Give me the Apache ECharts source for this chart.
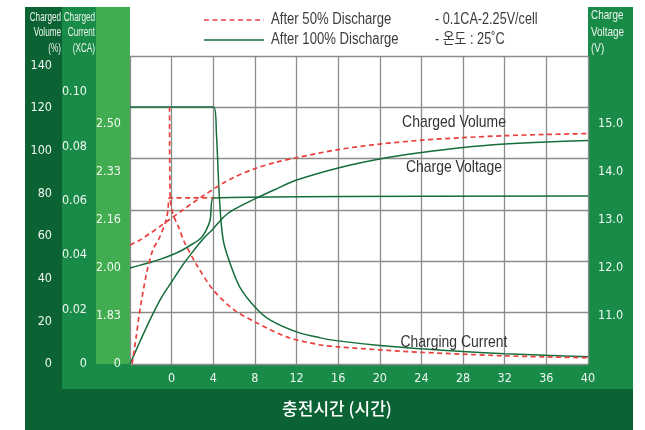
<!DOCTYPE html>
<html><head><meta charset="utf-8">
<script src="https://cdn.jsdelivr.net/npm/echarts@6/dist/echarts.min.js"></script>
<style>html,body{margin:0;padding:0;background:#fff}#c{width:645px;height:430px}</style>
</head><body><div id="c"></div>
<script>
// ---- data (hours since start of charge) ----
const xTickLabels = [0, 4, 8, 12, 16, 20, 24, 28, 32, 36, 40];
const volumeTicks = [0, 20, 40, 60, 80, 100, 120, 140];
const currentTicks = [0, 0.02, 0.04, 0.06, 0.08, 0.10];
const cellVoltLabels = ['0', '1.83', '2.00', '2.16', '2.33', '2.50'];
const packVoltTicks = [11, 12, 13, 14, 15];
const legendNames = ['After 50% Discharge', 'After 100% Discharge'];
const conditions = ['- 0.1CA-2.25V/cell', '- 온도 : 25˚C'];

// After 100% discharge (green)
const g100VolT = [-4, -3.5, -3, -2, -1, 0, 1, 2, 3, 4, 5, 6, 8, 10, 12, 16, 20, 24, 28, 32, 36, 40];
const g100VolV = [0, 5.5, 11, 21.5, 31, 38.5, 46, 52.5, 58.5, 63.5, 69, 72.5, 77.5, 82, 86.3, 92, 96.2, 99.2, 101.6, 103.2, 104.2, 104.8];
const g100CurT = [-4, 4.05, 4.3, 4.6, 4.95, 5.6, 6.55, 8, 9.45, 12, 14.3, 16, 20, 24, 28, 32, 36, 40];
const g100CurV = [0.0945, 0.0945, 0.0849, 0.0603, 0.0456, 0.0371, 0.0283, 0.0210, 0.0162, 0.0118, 0.0096, 0.0085, 0.0068, 0.0056, 0.0046, 0.0038, 0.0032, 0.0027];
const g100VoltT = [-4, -3, -2, -1, 0, 1, 2, 2.8, 3.3, 3.7, 4.0, 40];
const g100VoltV = [12.0, 12.06, 12.12, 12.19, 12.27, 12.37, 12.5, 12.62, 12.78, 13.0, 13.46, 13.5];

// After 50% discharge (red dashed)
const r50VolT = [-4, -3, -2, -1, 0, 1, 2, 3, 4, 5, 6, 8, 10, 12, 16, 20, 24, 28, 32, 36, 40];
const r50VolV = [55.8, 58.3, 61.5, 65, 68.5, 72, 75.5, 78.8, 82, 85, 87.6, 91.7, 94.6, 96.8, 100.6, 103.2, 105, 106.2, 107.1, 107.7, 108.1];
const r50CurT = [-0.2, -0.15, 0.1, 0.7, 1.2, 2.4, 4, 6, 8.2, 11.1, 14.3, 16, 20, 24, 28, 32, 36, 40];
const r50CurV = [0.0945, 0.062, 0.0555, 0.050, 0.045, 0.0365, 0.0272, 0.0199, 0.0151, 0.0099, 0.0070, 0.0063, 0.0052, 0.0043, 0.0036, 0.0030, 0.0026, 0.0023];
const r50VoltT = [-3.8, -3.4, -3.1, -2.4, -1.8, -1.2, -0.6, -0.35, -0.2, 4];
const r50VoltV = [10.0, 10.57, 11.05, 11.9, 12.38, 12.62, 12.95, 13.2, 13.46, 13.46];

const zip = (a, b) => a.map((v, i) => [v, b[i]]);
const onTick = (v, ticks) => ticks.some(t => Math.abs(t - v) < 1e-9);

const RED = '#e8403f', GREEN = '#156d3c';
const DARK = '#0b6334', MED = '#178b47', LIGHT = '#41ad50';
const ARIAL = '"Liberation Sans",Arial,sans-serif';
const COND = '"DejaVu Sans Condensed","Liberation Sans",sans-serif';
const LBL = {color: '#f2f7f2', fontSize: 12.5, fontFamily: COND};
const GRIDC = '#8c8c8c';
const DASH = [5, 3.5];

const chart = echarts.init(document.getElementById('c'), null, {renderer: 'canvas'});
const mk = (name, data, yi, color, dashed) => ({
  type: 'line', name, data, yAxisIndex: yi, xAxisIndex: 0, symbol: 'none', smooth: 0.3,
  lineStyle: {color, width: dashed ? 1.7 : 1.5, type: dashed ? DASH : 'solid'},
  itemStyle: {color}, z: dashed ? 4 : 3, silent: true, animation: false
});
const txt = (x, y, text, opt) => Object.assign({
  type: 'text', z: 5, silent: true, x, y, scaleX: opt.sx || 0.82,
  style: {text, fill: opt.fill || '#3c3c3c', font: opt.font, textAlign: opt.align || 'left',
          textVerticalAlign: opt.va || 'middle', lineHeight: opt.lh}
});

chart.setOption({
  animation: false,
  grid: {left: 130, top: 56, right: 57, bottom: 66, containLabel: false},
  xAxis: {
    type: 'value', min: -4, max: 40, interval: 4,
    axisLine: {show: false}, axisTick: {show: false},
    axisLabel: Object.assign({}, LBL, {margin: 8, formatter: v => onTick(v, xTickLabels) ? String(v) : ''}),
    splitLine: {show: true, lineStyle: {color: GRIDC, width: 1.3}}
  },
  yAxis: [
    {type: 'value', position: 'left', offset: 68, min: 0, max: 144.5, interval: 20,
     axisLine: {show: false}, axisTick: {show: false}, splitLine: {show: false},
     axisLabel: Object.assign({}, LBL, {margin: 10, formatter: v => onTick(v, volumeTicks) ? String(v) : ''})},
    {type: 'value', position: 'left', offset: 34, min: 0, max: 0.11324, interval: 0.02,
     axisLine: {show: false}, axisTick: {show: false}, splitLine: {show: false},
     axisLabel: Object.assign({}, LBL, {margin: 9, formatter: v => onTick(v, currentTicks) ? (v === 0 ? '0' : v.toFixed(2)) : ''})},
    {type: 'value', position: 'left', offset: 0, min: 10, max: 16.4167, interval: 1,
     axisLine: {show: false}, axisTick: {show: false}, splitLine: {show: false},
     axisLabel: Object.assign({}, LBL, {margin: 9, formatter: v => {
       const i = Math.round(v - 10); return (Math.abs(v - 10 - i) < 1e-9 && cellVoltLabels[i] !== undefined) ? cellVoltLabels[i] : '';
     }})},
    {type: 'value', position: 'right', offset: 0, min: 10, max: 16.4167, interval: 1,
     axisLine: {show: false}, axisTick: {show: false}, splitLine: {show: false},
     axisLabel: Object.assign({}, LBL, {margin: 10, formatter: v => onTick(v, packVoltTicks) ? v.toFixed(1) : ''})},
    {type: 'value', position: 'left', offset: 0, min: 0, max: 6, interval: 1, show: true,
     axisLine: {show: false}, axisTick: {show: false}, axisLabel: {show: false},
     splitLine: {show: true, lineStyle: {color: GRIDC, width: 1.3}}}
  ],
  graphic: [
    {type: 'rect', z: -10, silent: true, shape: {x: 25, y: 7, width: 608, height: 430}, style: {fill: DARK}},
    {type: 'rect', z: -9, silent: true, shape: {x: 62, y: 7, width: 571, height: 382}, style: {fill: MED}},
    {type: 'rect', z: -8, silent: true, shape: {x: 96, y: 7, width: 34, height: 357}, style: {fill: LIGHT}},
    {type: 'rect', z: -7, silent: true, shape: {x: 130, y: 7, width: 458, height: 357}, style: {fill: '#ffffff'}},
    txt(61, 9.5, 'Charged\nVolume\n(%)', {sx: 0.68, fill: '#eef5ee', font: '12px ' + ARIAL, align: 'right', va: 'top', lh: 15.5}),
    txt(95, 9.5, 'Charged\nCurrent\n(XCA)', {sx: 0.68, fill: '#eef5ee', font: '12px ' + ARIAL, align: 'right', va: 'top', lh: 15.5}),
    txt(591, 7.5, 'Charge\nVoltage\n(V)', {sx: 0.76, fill: '#eef5ee', font: '13px ' + ARIAL, align: 'left', va: 'top', lh: 16.5}),
    // legend
    {type: 'line', z: 5, silent: true, shape: {x1: 204, y1: 20, x2: 264, y2: 20}, style: {stroke: RED, lineWidth: 1.7, lineDash: DASH}},
    {type: 'line', z: 5, silent: true, shape: {x1: 204, y1: 40, x2: 264, y2: 40}, style: {stroke: GREEN, lineWidth: 1.5}},
    txt(271, 20, legendNames[0], {font: '16px ' + ARIAL}),
    txt(271, 40, legendNames[1], {font: '16px ' + ARIAL}),
    txt(435, 20, conditions[0], {sx: 0.79, font: '16px ' + ARIAL}),
    txt(435, 40, conditions[1], {sx: 0.8, font: '16px ' + ARIAL + ',"Noto Sans CJK KR"'}),
    txt(454, 122, 'Charged Volume', {fill: '#333333', font: '17px ' + ARIAL, align: 'center'}),
    txt(454, 167, 'Charge Voltage', {fill: '#333333', font: '17px ' + ARIAL, align: 'center'}),
    txt(454, 342, 'Charging Current', {fill: '#333333', font: '17px ' + ARIAL, align: 'center'}),
    txt(337, 409, '충전시간 (시간)', {sx: 1, fill: '#ffffff', font: '500 17px "Noto Sans CJK KR",sans-serif', align: 'center'})
  ],
  series: [
    mk(legendNames[1], zip(g100VolT, g100VolV), 0, GREEN, false),
    mk(legendNames[1], zip(g100CurT, g100CurV), 1, GREEN, false),
    mk(legendNames[1], zip(g100VoltT, g100VoltV), 3, GREEN, false),
    mk(legendNames[0], zip(r50VolT, r50VolV), 0, RED, true),
    mk(legendNames[0], zip(r50CurT, r50CurV), 1, RED, true),
    mk(legendNames[0], zip(r50VoltT, r50VoltV), 3, RED, true)
  ]
});
</script></body></html>
